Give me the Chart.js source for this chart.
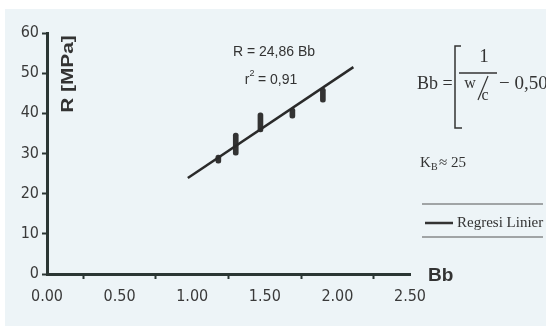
<!DOCTYPE html>
<html>
<head>
<meta charset="utf-8">
<script src="https://cdn.jsdelivr.net/npm/chart.js@4.4.1/dist/chart.umd.min.js"></script>
<style>
  html, body { margin: 0; padding: 0; background: #ffffff; }
  #wrap { width: 546px; height: 326px; }
</style>
</head>
<body>
<div id="wrap"><canvas id="chart" width="546" height="326"></canvas></div>
<script>
'use strict';

// measured points (vertical clusters): Bb and R range
const bbValues = [1.18, 1.30, 1.47, 1.69, 1.90];
const rLow = [27.6, 29.6, 35.4, 38.8, 42.8];
const rHigh = [29.6, 35.1, 40.1, 41.3, 46.3];

// regression line ends
const lineBb = [0.97, 2.11];
const lineR = [23.9, 51.5];

const xTicks = [0, 0.5, 1.0, 1.5, 2.0, 2.5];
const yTicks = [0, 10, 20, 30, 40, 50, 60];

const ink = '#2b3634';
const tickFont = "'Liberation Sans Narrow', 'DejaVu Sans Condensed', Arial, sans-serif";

let clusterData = [];
for (let i = 0; i < bbValues.length; i++) {
  clusterData.push({ x: bbValues[i], y: [rLow[i], rHigh[i]] });
}
let lineData = [];
for (let i = 0; i < lineBb.length; i++) {
  lineData.push({ x: lineBb[i], y: lineR[i] });
}

const paperPlugin = {
  id: 'paper',
  beforeDraw(chart) {
    let ctx = chart.ctx;
    ctx.save();
    ctx.fillStyle = '#ffffff';
    ctx.fillRect(0, 0, chart.width, chart.height);
    ctx.fillStyle = '#edf4f7';
    ctx.fillRect(5, 9, chart.width - 5, chart.height - 9);
    ctx.restore();
  }
};

const notesPlugin = {
  id: 'notes',
  afterDraw(chart) {
    let ctx = chart.ctx;
    ctx.save();
    ctx.fillStyle = '#333333';
    ctx.strokeStyle = '#333333';
    ctx.textBaseline = 'middle';

    // axis titles
    ctx.save();
    ctx.translate(69, 74);
    ctx.rotate(-Math.PI / 2);
    ctx.scale(1.3, 1);
    ctx.font = "bold 16px 'Liberation Sans', Arial, sans-serif";
    ctx.textAlign = 'center';
    ctx.fillText('R [MPa]', 0, 0);
    ctx.restore();

    ctx.font = "bold 19px 'Liberation Sans Narrow', 'Liberation Sans', Arial, sans-serif";
    ctx.textAlign = 'left';
    ctx.fillText('Bb', 428, 276);

    // regression equation
    ctx.font = "14px 'Liberation Sans', Arial, sans-serif";
    ctx.textAlign = 'center';
    ctx.fillText('R = 24,86 Bb', 274, 52);
    ctx.fillText('r', 247, 80);
    ctx.font = "9px 'Liberation Sans', Arial, sans-serif";
    ctx.fillText('2', 252, 74);
    ctx.font = "14px 'Liberation Sans', Arial, sans-serif";
    ctx.textAlign = 'left';
    ctx.fillText('= 0,91', 258, 80);

    // Bb formula
    ctx.font = "18px 'Liberation Serif', 'Times New Roman', serif";
    ctx.textAlign = 'left';
    ctx.fillText('Bb =', 417, 84);
    ctx.lineWidth = 1.5;
    ctx.beginPath();
    ctx.moveTo(461, 46);
    ctx.lineTo(455, 46);
    ctx.lineTo(455, 128);
    ctx.lineTo(462, 128);
    ctx.stroke();
    ctx.textAlign = 'center';
    ctx.font = "19px 'Liberation Serif', 'Times New Roman', serif";
    ctx.fillText('1', 484, 57);
    ctx.beginPath();
    ctx.moveTo(459, 73);
    ctx.lineTo(497, 73);
    ctx.stroke();
    ctx.font = "16px 'Liberation Serif', 'Times New Roman', serif";
    ctx.fillText('w', 470, 84);
    ctx.fillText('c', 485, 96);
    ctx.lineWidth = 1.2;
    ctx.beginPath();
    ctx.moveTo(488, 76);
    ctx.lineTo(478, 100);
    ctx.stroke();
    ctx.font = "19px 'Liberation Serif', 'Times New Roman', serif";
    ctx.textAlign = 'left';
    ctx.fillText('\u2212 0,50', 499, 84);

    // K_B
    ctx.font = "15px 'Liberation Serif', 'Times New Roman', serif";
    ctx.fillText('K', 420, 163);
    ctx.font = "10px 'Liberation Serif', 'Times New Roman', serif";
    ctx.fillText('B', 431, 167);
    ctx.font = "15px 'Liberation Serif', 'Times New Roman', serif";
    ctx.fillText('\u2248 25', 439, 163);

    // legend box
    ctx.lineWidth = 1;
    ctx.strokeStyle = '#555555';
    ctx.beginPath();
    ctx.moveTo(422, 204);
    ctx.lineTo(543, 204);
    ctx.moveTo(422, 237);
    ctx.lineTo(543, 237);
    ctx.stroke();
    ctx.strokeStyle = '#333333';
    ctx.lineWidth = 2.5;
    ctx.beginPath();
    ctx.moveTo(425, 223);
    ctx.lineTo(453, 223);
    ctx.stroke();
    ctx.font = "15px 'Liberation Serif', 'Times New Roman', serif";
    ctx.fillText('Regresi Linier', 457, 223);

    ctx.restore();
  }
};

new Chart(document.getElementById('chart'), {
  type: 'bar',
  data: {
    datasets: [{
      type: 'line',
      label: 'Regresi Linier',
      data: lineData,
      borderColor: '#2a2a2a',
      borderWidth: 2.5,
      pointRadius: 0,
      fill: false
    },
    {
      type: 'bar',
      label: 'Data',
      data: clusterData,
      backgroundColor: '#333333',
      barThickness: 5,
      borderRadius: 3,
      borderSkipped: false
    }]
  },
  plugins: [paperPlugin, notesPlugin],
  options: {
    responsive: false,
    animation: false,
    events: [],
    layout: { padding: { top: 33, right: 136, left: 0, bottom: 0 } },
    plugins: {
      legend: { display: false },
      tooltip: { enabled: false }
    },
    scales: {
      x: {
        type: 'linear',
        offset: false,
        min: 0,
        max: 2.5,
        afterBuildTicks: (scale) => { scale.ticks = xTicks.map(v => ({ value: v })); },
        afterFit: (scale) => { scale.height = 52; },
        ticks: {
          callback: (v) => v.toFixed(2),
          color: '#3a3a3a',
          font: { family: tickFont, size: 16 },
          padding: 8,
          maxRotation: 0
        },
        grid: { drawOnChartArea: false, drawTicks: true, tickLength: 5, tickColor: ink, tickWidth: 2 },
        border: { display: true, color: ink, width: 3 }
      },
      y: {
        min: 0,
        max: 60,
        afterBuildTicks: (scale) => { scale.ticks = yTicks.map(v => ({ value: v })); },
        afterFit: (scale) => { scale.width = 47; },
        ticks: {
          color: '#3a3a3a',
          font: { family: tickFont, size: 16 },
          padding: 3
        },
        grid: { drawOnChartArea: false, drawTicks: true, tickLength: 5, tickColor: ink, tickWidth: 2 },
        border: { display: true, color: ink, width: 3 }
      }
    }
  }
});
</script>
</body>
</html>
